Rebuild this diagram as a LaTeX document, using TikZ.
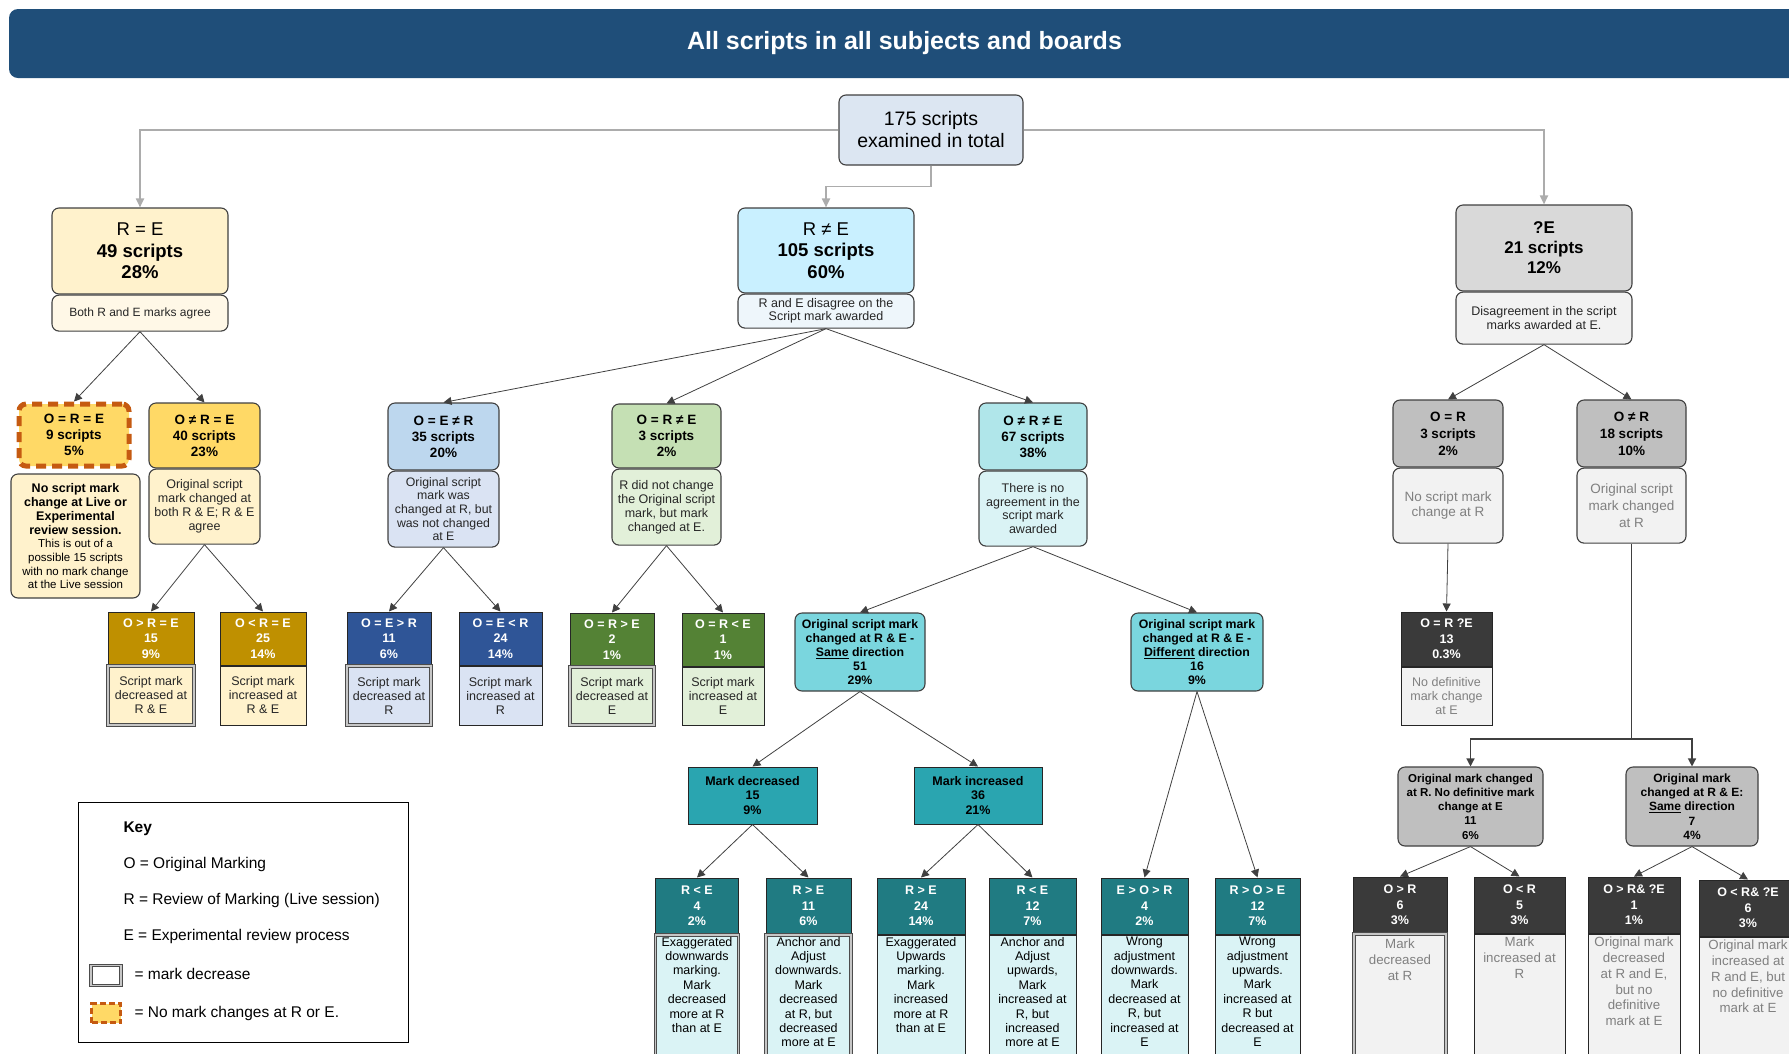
\documentclass[tikz,border=0pt]{standalone}
\usepackage{fontspec}
\setmainfont{Liberation Sans}
\usetikzlibrary{arrows.meta}
\newcommand{\myfs}[2]{\fontsize{#1}{#2}\selectfont}
\newcommand{\mytbox}[3]{\parbox[c][#1][t]{#2}{\centering #3}}
\definecolor{bannerc}{HTML}{1F4E79}
\definecolor{rootc}{HTML}{DCE6F2}
\definecolor{bordc}{HTML}{404040}
\definecolor{txt}{HTML}{262626}
\definecolor{yel1}{HTML}{FFF2CC}
\definecolor{yel0}{HTML}{FFF8E7}
\definecolor{cyan1}{HTML}{C9F0FF}
\definecolor{cyan0}{HTML}{EEF6FB}
\definecolor{grey1}{HTML}{D9D9D9}
\definecolor{grey0}{HTML}{F2F2F2}
\definecolor{grey2}{HTML}{BFBFBF}
\definecolor{darkc}{HTML}{3A3A3A}
\definecolor{greytxt}{HTML}{808080}
\definecolor{gold1}{HTML}{FFD966}
\definecolor{gold0}{HTML}{FFF2CC}
\definecolor{gold2}{HTML}{BF9000}
\definecolor{orangec}{HTML}{C55A11}
\definecolor{blue1}{HTML}{BDD7EE}
\definecolor{blue0}{HTML}{DAE3F3}
\definecolor{blue2}{HTML}{2F5597}
\definecolor{grn1}{HTML}{C5E0B4}
\definecolor{grn0}{HTML}{E2F0D9}
\definecolor{grn2}{HTML}{548235}
\definecolor{teal1}{HTML}{B0E6EA}
\definecolor{teal0}{HTML}{DAF3F5}
\definecolor{teal2}{HTML}{7AD6DE}
\definecolor{teal3}{HTML}{2AA5B0}
\definecolor{teal4}{HTML}{207B82}
\tikzset{
 base/.style={align=center, inner sep=1.5pt, text=black},
 rbox/.style={base, draw=bordc, line width=1.1pt, rounded corners=7pt},
 sbox/.style={base, draw=black!85, line width=1pt},
 dec/.style={draw=black!70, double=gray!45, double distance=1.4pt, line width=1pt},
 wh/.style 2 args={minimum width=#1pt, minimum height=#2pt},
 conn/.style={draw=black!75, line width=0.8pt, -{Triangle[length=8pt,width=8pt]}},
 trunk/.style={draw=gray!65, line width=1.8pt, -{Triangle[length=9pt,width=8pt]}},
 hd/.style={font=\bfseries\myfs{13.5}{16}},
 sm/.style={font=\myfs{12.5}{14}, text=txt},
 leafh/.style={font=\bfseries\myfs{12.5}{15.5}, text=white},
 below/.style={anchor=north, at=(#1.south)},
 bsub/.style={sbox, inner sep=2pt, font=\myfs{12.5}{14.4}},
 gsub/.style={sbox, inner sep=2pt, fill=grey0, font=\myfs{13.3}{15.8}, text=greytxt},
 keyf/.style={anchor=west, font=\myfs{15.5}{18}, text=black},
}
\begin{document}
\begin{tikzpicture}[x=1pt, y=-1pt]
\useasboundingbox (0,0) rectangle (1789,1053);
% title
\node[fill=bannerc, rounded corners=9pt, wh={1791}{69}, text=white, font=\bfseries\myfs{25}{29}] (title) at (904.5,43.5) {All scripts in all subjects and boards};
% root
\node[rbox, fill=rootc, wh={184}{70}, font=\myfs{19.5}{22}] (root) at (931,130) {175 scripts\\examined in total};
% level 1
\node[rbox, fill=yel1, wh={176}{86}, font=\myfs{18.5}{21.5}] (re) at (140,251) {R = E\\\textbf{49 scripts}\\\textbf{28\%}};
\node[rbox, fill=yel0, wh={176}{36}, font=\myfs{12}{14}, text=txt, below=re] (resub) {Both R and E marks agree};
\node[rbox, fill=cyan1, wh={176}{85}, font=\myfs{18.5}{21.5}] (rne) at (826,250.5) {R ≠ E\\\textbf{105 scripts}\\\textbf{60\%}};
\node[rbox, fill=cyan0, wh={176}{34}, font=\myfs{12.5}{13}, text=txt, below=rne] (rnesub) {R and E disagree on the\\Script mark awarded};
\node[rbox, fill=grey1, wh={176}{86}, font=\bfseries\myfs{17}{20}] (qe) at (1544,248) {?E\\21 scripts\\12\%};
\node[rbox, fill=grey0, wh={176}{52}, font=\myfs{12.5}{13.5}, text=txt, below=qe] (qesub) {Disagreement in the script\\marks awarded at E.};
% R = E branch
\node[rbox, fill=gold1, draw=orangec, line width=5pt, dash pattern=on 10pt off 6pt, wh={110}{62}, hd] (ore) at (74,435) {O = R = E\\9 scripts\\5\%};
\node[rbox, fill=gold0, wh={129}{124}, text=black] (oresub) at (75.5,536) {\parbox{125pt}{\centering\bfseries\myfs{12.5}{14}No script mark\\change at Live or\\Experimental\\review session.\par\mdseries\myfs{11.5}{13.7}This is out of a\\possible 15 scripts\\with no mark change\\at the Live session\par}};
\node[rbox, fill=gold1, wh={111}{65}, hd] (onre) at (204.5,435.5) {O ≠ R = E\\40 scripts\\23\%};
\node[rbox, fill=gold0, wh={111}{75}, sm, below=onre] (onresub) {Original script\\mark changed at\\both R \& E; R \& E\\agree};
\node[sbox, fill=gold2, wh={86}{53}, leafh] (g1) at (151,638.5) {O > R = E\\15\\9\%};
\node[sbox, dec, fill=gold0, wh={86}{59}, sm, below=g1] (g1s) {Script mark\\decreased at\\R \& E};
\node[sbox, fill=gold2, wh={86}{53}, leafh] (g2) at (263,638.5) {O < R = E\\25\\14\%};
\node[sbox, fill=gold0, wh={86}{59}, sm, below=g2] (g2s) {Script mark\\increased at\\R \& E};
% blue
\node[rbox, fill=blue1, wh={111}{67}, hd] (oer) at (443.5,436.5) {O = E ≠ R\\35 scripts\\20\%};
\node[rbox, fill=blue0, wh={111}{76}, font=\myfs{12.3}{13.6}, text=txt, below=oer] (oersub) {Original script\\mark was\\changed at R, but\\was not changed\\at E};
\node[sbox, fill=blue2, wh={84}{53}, leafh] (b1) at (389,638.5) {O = E > R\\11\\6\%};
\node[sbox, dec, fill=blue0, wh={84}{59}, sm, below=b1] (b1s) {Script mark\\decreased at\\R};
\node[sbox, fill=blue2, wh={83}{53}, leafh] (b2) at (500.5,638.5) {O = E < R\\24\\14\%};
\node[sbox, fill=blue0, wh={83}{59}, sm, below=b2] (b2s) {Script mark\\increased at\\R};
% green
\node[rbox, fill=grn1, wh={109}{64}, hd] (ore2) at (666.5,436) {O = R ≠ E\\3 scripts\\2\%};
\node[rbox, fill=grn0, wh={109}{76}, sm, below=ore2] (ore2sub) {R did not change\\the Original script\\mark, but mark\\changed at E.};
\node[sbox, fill=grn2, wh={84}{53}, leafh] (n1) at (612,639.5) {O = R > E\\2\\1\%};
\node[sbox, dec, fill=grn0, wh={84}{58}, sm, below=n1] (n1s) {Script mark\\decreased at\\E};
\node[sbox, fill=grn2, wh={82}{53}, leafh] (n2) at (723,639.5) {O = R < E\\1\\1\%};
\node[sbox, fill=grn0, wh={82}{58}, sm, below=n2] (n2s) {Script mark\\increased at\\E};
% teal
\node[rbox, fill=teal1, wh={108}{67}, hd] (onrne) at (1033,436.5) {O ≠ R ≠ E\\67 scripts\\38\%};
\node[rbox, fill=teal0, wh={108}{75}, font=\myfs{12.5}{13.5}, text=txt, below=onrne] (onrnesub) {There is no\\agreement in the\\script mark\\awarded};
\node[rbox, fill=teal2, wh={130}{78}, font=\bfseries\myfs{12.3}{14}] (same) at (860,652) {Original script mark\\changed at R \& E -\\\underline{Same} direction\\51\\29\%};
\node[rbox, fill=teal2, wh={132}{78}, font=\bfseries\myfs{12.3}{14}] (diff) at (1197,652) {Original script mark\\changed at R \& E -\\\underline{Different} direction\\16\\9\%};
\node[sbox, fill=teal3, wh={129}{57}, font=\bfseries\myfs{12.5}{14.5}] (mdec) at (752.5,795.5) {Mark decreased\\15\\9\%};
\node[sbox, fill=teal3, wh={128}{57}, font=\bfseries\myfs{12.5}{14.5}] (minc) at (978,795.5) {Mark increased\\36\\21\%};
% bottom teal row
\node[sbox, fill=teal4, wh={83}{56}, leafh] (t1) at (697,906) {R < E\\4\\2\%};
\node[bsub, dec, fill=teal0, below=t1] (t1s) {\mytbox{134pt}{79pt}{Exaggerated\\downwards\\marking.\\Mark\\decreased\\more at R\\than at E}};
\node[sbox, fill=teal4, wh={85}{56}, leafh] (t2) at (808.5,906) {R > E\\11\\6\%};
\node[bsub, dec, fill=teal0, below=t2] (t2s) {\mytbox{134pt}{81pt}{Anchor and\\Adjust\\downwards.\\Mark\\decreased\\at R, but\\decreased\\more at E}};
\node[sbox, fill=teal4, wh={88}{56}, leafh] (t3) at (921,906) {R > E\\24\\14\%};
\node[bsub, fill=teal0, below=t3] (t3s) {\mytbox{134pt}{84pt}{Exaggerated\\Upwards\\marking.\\Mark\\increased\\more at R\\than at E}};
\node[sbox, fill=teal4, wh={87}{56}, leafh] (t4) at (1032.5,906) {R < E\\12\\7\%};
\node[bsub, fill=teal0, below=t4] (t4s) {\mytbox{134pt}{83pt}{Anchor and\\Adjust\\upwards,\\Mark\\increased at\\R, but\\increased\\more at E}};
\node[sbox, fill=teal4, wh={87}{56}, leafh] (t5) at (1144.5,906) {E > O > R\\4\\2\%};
\node[bsub, fill=teal0, below=t5] (t5s) {\mytbox{134pt}{83pt}{Wrong\\adjustment\\downwards.\\Mark\\decreased at\\R, but\\increased at\\E}};
\node[sbox, fill=teal4, wh={85}{56}, leafh] (t6) at (1257.5,906) {R > O > E\\12\\7\%};
\node[bsub, fill=teal0, below=t6] (t6s) {\mytbox{134pt}{81pt}{Wrong\\adjustment\\upwards.\\Mark\\increased at\\R but\\decreased at\\E}};
% grey right
\node[rbox, fill=grey2, wh={110}{67}, font=\bfseries\myfs{13.5}{17}] (oR) at (1448,433.5) {O = R\\3 scripts\\2\%};
\node[rbox, fill=grey0, wh={110}{75}, font=\myfs{13.5}{15.5}, text=greytxt, below=oR] (oRsub) {No script mark\\change at R};
\node[rbox, fill=grey2, wh={109}{67}, font=\bfseries\myfs{13.5}{17}] (onR) at (1631.5,433.5) {O ≠ R\\18 scripts\\10\%};
\node[rbox, fill=grey0, wh={109}{75}, font=\myfs{13.5}{17}, text=greytxt, below=onR] (onRsub) {Original script\\mark changed\\at R};
\node[sbox, fill=darkc, wh={91}{54}, leafh] (oRqE) at (1446.5,639) {O = R ?E\\13\\0.3\%};
\node[sbox, fill=grey0, wh={91}{58}, font=\myfs{12.5}{14}, text=greytxt, below=oRqE] (oRqEs) {No definitive\\mark change\\at E};
\node[rbox, fill=grey2, wh={145}{79}, font=\bfseries\myfs{11.5}{14.2}] (ochR) at (1470.5,806.5) {Original mark changed\\at R. No definitive mark\\change at E\\11\\6\%};
\node[rbox, fill=grey2, wh={132}{79}, font=\bfseries\myfs{12}{14.2}] (ochRE) at (1692,806.5) {Original mark\\changed at R \& E:\\\underline{Same} direction\\7\\4\%};
\node[sbox, fill=darkc, wh={94}{56}, leafh] (r1) at (1400,905) {O > R\\6\\3\%};
\node[gsub, dec, below=r1] (r1s) {\mytbox{134pt}{88pt}{\vspace*{3pt}Mark\\decreased\\at R}};
\node[sbox, fill=darkc, wh={91}{56}, leafh] (r2) at (1519.5,905) {O < R\\5\\3\%};
\node[gsub, below=r2] (r2s) {\mytbox{134pt}{87pt}{\vspace*{1pt}Mark\\increased at\\R}};
\node[sbox, fill=darkc, wh={92}{56}, leafh] (r3) at (1634,905) {O > R\& ?E\\1\\1\%};
\node[gsub, below=r3] (r3s) {\mytbox{134pt}{88pt}{\vspace*{1pt}Original mark\\decreased\\at R and E,\\but no\\definitive\\mark at E}};
\node[sbox, fill=darkc, wh={98}{56}, leafh] (r4) at (1748,908) {O < R\& ?E\\6\\3\%};
\node[gsub, below=r4] (r4s) {\mytbox{134pt}{94pt}{\vspace*{1pt}Original mark\\increased at\\R and E, but\\no definitive\\mark at E}};
% key
\node[draw=black, line width=1pt, wh={330}{240}] (key) at (243,922) {};
\node[keyf, font=\bfseries\myfs{15.5}{18}] (k0) at (120,829) {Key};
\node[keyf] (k1) at (120,864) {O = Original Marking};
\node[keyf] (k2) at (120,900) {R = Review of Marking (Live session)};
\node[keyf] (k3) at (120,936) {E = Experimental review process};
\node[sbox, dec, fill=white, wh={30}{20}] (ks1) at (106,975.5) {};
\node[keyf] (k4) at (131,974) {= mark decrease};
\node[fill=gold1, draw=orangec, line width=3.5pt, dash pattern=on 6pt off 3pt, wh={29}{19}] (ks2) at (106,1013) {};
\node[keyf] (k5) at (131,1013) {= No mark changes at R or E.};
% connectors
\draw[trunk] (root.west) -| (re.north);
\draw[trunk] (root.east) -| (qe.north);
\draw[trunk] (root.south) -- ++(0,21) -| (rne.north);
\draw[conn] (resub.south) -- (ore.north);
\draw[conn] (resub.south) -- (onre.north);
\draw[conn] (onresub.south) -- (g1.north);
\draw[conn] (onresub.south) -- (g2.north);
\draw[conn] (rnesub.south) -- (oer.north);
\draw[conn] (rnesub.south) -- (ore2.north);
\draw[conn] (rnesub.south) -- (onrne.north);
\draw[conn] (oersub.south) -- (b1.north);
\draw[conn] (oersub.south) -- (b2.north);
\draw[conn] (ore2sub.south) -- (n1.north);
\draw[conn] (ore2sub.south) -- (n2.north);
\draw[conn] (onrnesub.south) -- (same.north);
\draw[conn] (onrnesub.south) -- (diff.north);
\draw[conn] (same.south) -- (mdec.north);
\draw[conn] (same.south) -- (minc.north);
\draw[conn] (mdec.south) -- (t1.north);
\draw[conn] (mdec.south) -- (t2.north);
\draw[conn] (minc.south) -- (t3.north);
\draw[conn] (minc.south) -- (t4.north);
\draw[conn] (diff.south) -- (t5.north);
\draw[conn] (diff.south) -- (t6.north);
\draw[conn] (qesub.south) -- (oR.north);
\draw[conn] (qesub.south) -- (onR.north);
\draw[conn] (oRsub.south) -- (oRqE.north);
\coordinate (jn) at (onRsub.south |- 0,739);
\draw[conn, line width=1.3pt] (onRsub.south) -- (jn) -| (ochR.north);
\draw[conn, line width=1.3pt] (jn) -| (ochRE.north);
\draw[conn] (ochR.south) -- (r1.north);
\draw[conn] (ochR.south) -- (r2.north);
\draw[conn] (ochRE.south) -- (r3.north);
\draw[conn] (ochRE.south) -- (r4.north);
\end{tikzpicture}
\end{document}
